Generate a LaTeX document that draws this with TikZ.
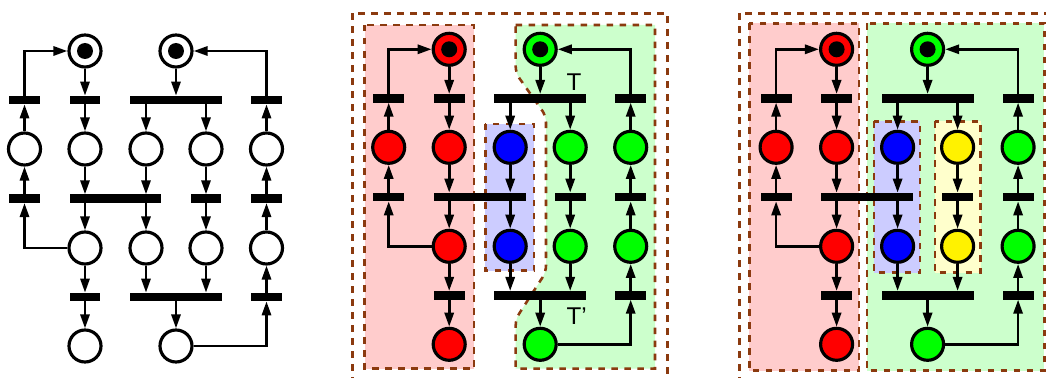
\documentclass[tikz,border=0pt]{standalone}
\usepackage{fontspec}
\setmainfont{Liberation Sans}
\usetikzlibrary{arrows.meta}
\definecolor{regionline}{HTML}{8B3A0F}
\definecolor{lightred}{HTML}{FFCCCC}
\definecolor{lightgreen}{HTML}{CCFFCC}
\definecolor{lightblue}{HTML}{CCCCFF}
\definecolor{lightyellow}{HTML}{FFFFCC}
\tikzset{%
    place/.style={%
        draw, shape=circle, line width=1.8pt, inner sep=0pt, minimum size=0.64cm
    },
    token/.style={%
        shape=circle, fill=black, inner sep=0pt, minimum size=0.32cm
    },
    trans/.style={%
        shape=rectangle, fill=black, inner sep=0pt, outer sep=0pt,
        minimum width=0.62cm, minimum height=0.174cm
    },
    widetrans/.style={%
        trans, minimum width=1.84cm
    },
    arc/.style={%
        line width=1.5pt, -{Triangle[length=8pt,width=5.2pt]}
    },
    region/.style={%
        draw=regionline, line width=1.45pt, dash pattern=on 3.7pt off 3.7pt
    }
}
% #1 prefix, #2 offset, #3 left part, #4 third column, #5 fourth column, #6 right part
\newcommand{\petrinet}[6]{%
\begin{scope}[shift={#2}, name prefix=#1-]
    \node[place, fill=#3] (a) at (85,51) {};
    \node[place, fill=#6] (b) at (176,51) {};
    \node[token] (atoken) at (a) {};
    \node[token] (btoken) at (b) {};

    \node[place, fill=#3] (c1) at (24.5,149) {};
    \node[place, fill=#3] (c2) at (85,149) {};
    \node[place, fill=#4] (c3) at (146,149) {};
    \node[place, fill=#5] (c4) at (206,149) {};
    \node[place, fill=#6] (c5) at (266.5,149) {};

    \node[place, fill=#3] (d2) at (85,248) {};
    \node[place, fill=#4] (d3) at (146,248) {};
    \node[place, fill=#5] (d4) at (206,248) {};
    \node[place, fill=#6] (d5) at (266.5,248) {};

    \node[place, fill=#3] (e) at (85,346) {};
    \node[place, fill=#6] (f) at (176,346) {};

    \node[trans] (t1) at (24.5,100) {};
    \node[trans] (t2) at (85,100) {};
    \node[widetrans] (t3) at (176,100) {};
    \node[trans] (t4) at (266.5,100) {};

    \node[trans] (u1) at (24.5,198.7) {};
    \node[widetrans] (u2) at (115.5,198.7) {};
    \node[trans] (u3) at (206,198.7) {};
    \node[trans] (u4) at (266.5,198.7) {};

    \node[trans] (v1) at (85,297) {};
    \node[widetrans] (v2) at (176,297) {};
    \node[trans] (v3) at (266.5,297) {};

    \draw[arc] (t1.center) |- (a);
    \draw[arc] (a) -- (t2);
    \draw[arc] (t2) -- (c2);
    \draw[arc] (b) -- (t3);
    \draw[arc] (t3.south -| c3) -- (c3);
    \draw[arc] (t3.south -| c4) -- (c4);
    \draw[arc] (t4.center) |- (b);
    \draw[arc] (c1) -- (t1);
    \draw[arc] (c5) -- (t4);
    \draw[arc] (u1) -- (c1);
    \draw[arc] (c2) -- (u2.north -| c2);
    \draw[arc] (c3) -- (u2.north -| c3);
    \draw[arc] (c4) -- (u3);
    \draw[arc] (u4) -- (c5);
    \draw[arc] (d2) -| (u1);
    \draw[arc] (u2.south -| d2) -- (d2);
    \draw[arc] (u2.south -| d3) -- (d3);
    \draw[arc] (u3) -- (d4);
    \draw[arc] (d5) -- (u4);
    \draw[arc] (d2) -- (v1);
    \draw[arc] (d3) -- (v2.north -| d3);
    \draw[arc] (d4) -- (v2.north -| d4);
    \draw[arc] (v3) -- (d5);
    \draw[arc] (v1) -- (e);
    \draw[arc] (v2) -- (f);
    \draw[arc] (f) -| (v3);
\end{scope}
}

\begin{document}
\begin{tikzpicture}[x=0.02cm, y=-0.02cm]
    \path[use as bounding box, clip] (0,0) rectangle (1046,378);

    % second net
    \draw[region] (352.3,13.3) rectangle (667.3,400);
    \draw[region, fill=lightred] (364.7,25) rectangle (474,368.7);
    \draw[region, fill=lightgreen]
        (515.7,25) -- (655,25) -- (655,368.7) -- (515.7,368.7)
        [rounded corners=3.5pt] -- (515.7,319) -- (546,272) -- (546,116) -- (515.7,73) [sharp corners] -- cycle;
    \draw[region, fill=lightblue] (485.3,124) rectangle (534,270.7);

    % third net
    \draw[region] (739.3,13.3) rectangle (1100,400);
    \draw[region, fill=lightred] (749.3,23.3) rectangle (859,370.7);
    \draw[region, fill=lightgreen] (867,23.3) rectangle (1044.3,370.7);
    \draw[region, fill=lightblue] (874,121.3) rectangle (920,272.7);
    \draw[region, fill=lightyellow] (935,121.3) rectangle (980.7,272.7);

    \petrinet{first}{(0,0)}{white}{white}{white}{white}
    \petrinet{second}{(364.2,-1.7)}{red}{blue}{green}{green}
    \petrinet{third}{(751.6,-1.7)}{red}{blue}{yellow}{green}

    \node[font=\fontsize{13.8pt}{16pt}\selectfont] (T) at (574,82) {T};
    \node[font=\fontsize{13.8pt}{16pt}\selectfont, anchor=west, inner sep=0pt] (Tprime) at (566.3,316) {T'};
\end{tikzpicture}
\end{document}
